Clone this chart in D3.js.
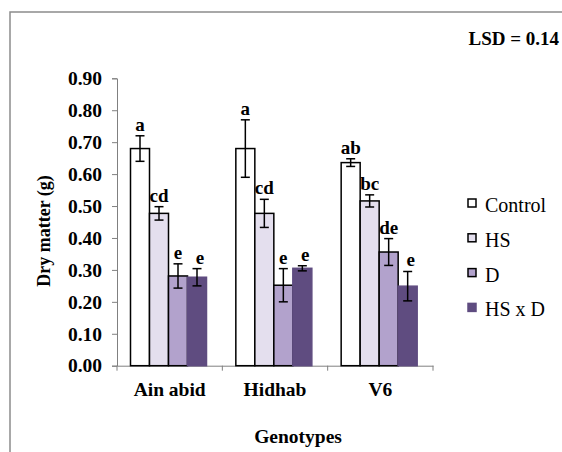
<!DOCTYPE html>
<html>
<head>
<meta charset="utf-8">
<script src="https://cdn.jsdelivr.net/npm/d3@7"></script>
<style>
  body { margin: 0; background: #fff; }
  svg text { font-family: "Liberation Serif", "Times New Roman", serif; }
</style>
</head>
<body>
<svg id="chart"></svg>
<script>
var width = 562;
var height = 452;

var genotypes = ["Ain abid", "Hidhab", "V6"];
var treatments = ["Control", "HS", "D", "HS x D"];
var colors = ["#ffffff", "#e4dfee", "#b2a2cc", "#5f4c80"];

var control = [0.68, 0.68, 0.636];
var hs = [0.477, 0.477, 0.516];
var drought = [0.281, 0.252, 0.356];
var hsd = [0.277, 0.305, 0.249];

var controlErr = [0.04, 0.09, 0.012];
var hsErr = [0.021, 0.044, 0.019];
var droughtErr = [0.038, 0.052, 0.042];
var hsdErr = [0.027, 0.008, 0.046];

var controlLetters = ["a", "a", "ab"];
var hsLetters = ["cd", "cd", "bc"];
var droughtLetters = ["e", "e", "de"];
var hsdLetters = ["e", "e", "e"];

var yTicks = [0, 0.1, 0.2, 0.3, 0.4, 0.5, 0.6, 0.7, 0.8, 0.9];

var series = [
  { values: control, errs: controlErr, letters: controlLetters },
  { values: hs, errs: hsErr, letters: hsLetters },
  { values: drought, errs: droughtErr, letters: droughtLetters },
  { values: hsd, errs: hsdErr, letters: hsdLetters }
];

var svg = d3.select("#chart")
  .attr("width", width)
  .attr("height", height);

// outer frame (cut off at right and bottom)
svg.append("rect")
  .attr("x", 10).attr("y", 12)
  .attr("width", 600).attr("height", 500)
  .attr("fill", "none")
  .attr("stroke", "#8c8c8c")
  .attr("stroke-width", 1.5);

var plotLeft = 117, plotRight = 433, plotTop = 78.3, plotBottom = 365.7;

var x = d3.scaleBand()
  .domain(genotypes)
  .range([plotLeft, plotRight]);

var inner = d3.scaleBand()
  .domain(d3.range(treatments.length))
  .range([13.5, 13.5 + 76]);

var y = d3.scaleLinear()
  .domain([0, 0.9])
  .range([plotBottom, plotTop]);

// y axis
var yAxis = svg.append("g")
  .attr("transform", "translate(" + plotLeft + ",0)")
  .call(d3.axisLeft(y).tickValues(yTicks).tickFormat(d3.format(".2f")).tickSizeOuter(0).tickSize(5));
yAxis.select(".domain").attr("stroke", "#808080");
yAxis.selectAll(".tick line").attr("stroke", "#808080");
yAxis.selectAll(".tick text")
  .attr("x", -15)
  .attr("font-size", 19.5)
  .attr("font-weight", "bold")
  .attr("fill", "#000");

// x axis
var xAxis = svg.append("g")
  .attr("transform", "translate(0," + plotBottom + ")")
  .call(d3.axisBottom(x).tickSize(0).tickSizeOuter(0));
xAxis.select(".domain").attr("stroke", "#808080");
xAxis.selectAll(".tick text")
  .attr("y", 30)
  .attr("dy", 0)
  .attr("font-size", 19.5)
  .attr("font-weight", "bold")
  .attr("fill", "#000");
// category separators
var sep = genotypes.map(function(g) { return x(g); }).concat([plotRight]);
svg.selectAll(".sep")
  .data(sep)
  .enter().append("line")
  .attr("x1", function(d) { return d; })
  .attr("x2", function(d) { return d; })
  .attr("y1", plotBottom)
  .attr("y2", plotBottom + 5)
  .attr("stroke", "#808080");

// bars
series.forEach(function(s, i) {
  var g = svg.append("g");
  genotypes.forEach(function(gen, j) {
    var bx = x(gen) + inner(i);
    var bw = inner.bandwidth();
    var v = s.values[j];
    g.append("rect")
      .attr("x", bx)
      .attr("y", y(v))
      .attr("width", bw)
      .attr("height", plotBottom - y(v))
      .attr("fill", colors[i])
      .attr("stroke", i === 3 ? colors[i] : "#000")
      .attr("stroke-width", 1.5);

    var cx = bx + bw / 2;
    var e = s.errs[j];
    g.append("line")
      .attr("x1", cx).attr("x2", cx)
      .attr("y1", y(v + e)).attr("y2", y(v - e))
      .attr("stroke", "#000").attr("stroke-width", 1.5);
    [v + e, v - e].forEach(function(w) {
      g.append("line")
        .attr("x1", cx - 4.5).attr("x2", cx + 4.5)
        .attr("y1", y(w)).attr("y2", y(w))
        .attr("stroke", "#000").attr("stroke-width", 1.5);
    });

    g.append("text")
      .attr("x", cx + (i === 3 ? 3 : 0))
      .attr("y", y(v + e) - 5)
      .attr("text-anchor", "middle")
      .attr("font-size", 19)
      .attr("font-weight", "bold")
      .text(s.letters[j]);
  });
});

// axis titles
svg.append("text")
  .attr("transform", "translate(50,231) rotate(-90)")
  .attr("text-anchor", "middle")
  .attr("font-size", 18)
  .attr("font-weight", "bold")
  .text("Dry matter (g)");

svg.append("text")
  .attr("x", 298)
  .attr("y", 443)
  .attr("text-anchor", "middle")
  .attr("font-size", 19.5)
  .attr("font-weight", "bold")
  .text("Genotypes");

svg.append("text")
  .attr("x", 559)
  .attr("y", 45)
  .attr("text-anchor", "end")
  .attr("font-size", 19)
  .attr("font-weight", "bold")
  .text("LSD = 0.14");

// legend
var legend = svg.selectAll(".legend")
  .data(treatments)
  .enter().append("g")
  .attr("transform", function(d, i) { return "translate(468," + (205 + i * 34.8) + ")"; });

legend.append("rect")
  .attr("x", 0).attr("y", -6)
  .attr("width", 8).attr("height", 8)
  .attr("fill", function(d, i) { return colors[i]; })
  .attr("stroke", function(d, i) { return i === 3 ? colors[i] : "#000"; })
  .attr("stroke-width", 1.5);

legend.append("text")
  .attr("x", 17)
  .attr("y", 7)
  .attr("font-size", 20)
  .text(function(d) { return d; });
</script>
</body>
</html>
